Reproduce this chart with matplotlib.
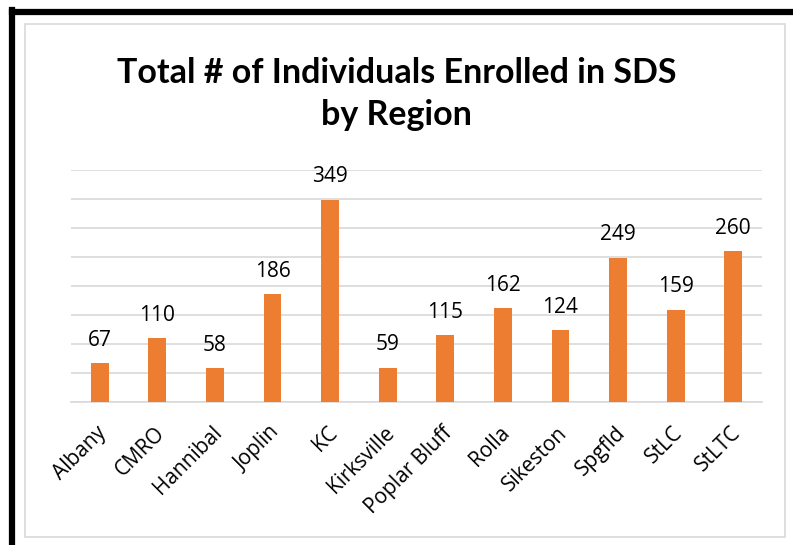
# Total # of individuals enrolled in SDS, by region (bar chart)

import matplotlib.pyplot as plt
import matplotlib.transforms as mtransforms
from matplotlib.patches import Rectangle
from matplotlib.lines import Line2D

regions = ['Albany', 'CMRO', 'Hannibal', 'Joplin', 'KC', 'Kirksville',
           'Poplar Bluff', 'Rolla', 'Sikeston', 'Spgfld', 'StLC', 'StLTC']
enrolled = [67, 110, 58, 186, 349, 59, 115, 162, 124, 249, 159, 260]

plt.rcParams['font.family'] = ['Open Sans', 'DejaVu Sans']

fig = plt.figure(figsize=(7.93, 5.45), dpi=100)
W, H = 793, 545

# black frame (top + left) and gray chart-area border
fig.add_artist(Line2D([12 / W, 1], [1 - 12 / H, 1 - 12 / H], color='black', lw=4.5,
                      transform=fig.transFigure))
fig.add_artist(Line2D([12 / W, 12 / W], [0, 1 - 9.5 / H], color='black', lw=4.5,
                      transform=fig.transFigure))
fig.add_artist(Rectangle((25 / W, 1 - 537 / H), (785 - 25) / W, (537 - 24) / H,
                         fill=False, edgecolor='#d9d9d9', lw=1.2,
                         transform=fig.transFigure))

ax = fig.add_axes([71 / W, 1 - 402 / H, (762 - 71) / W, (402 - 170) / H])
x = range(len(regions))
bars = ax.bar(x, enrolled, width=0.31, color='#ed7d31', zorder=3)
for xi, v in zip(x, enrolled):
    ax.annotate(str(v), (xi, v), xytext=(0, 9), textcoords='offset points',
                ha='center', va='bottom', fontsize=15, color='black')

ax.set_ylim(0, 400)
ax.set_xlim(-0.5, len(regions) - 0.5)
ax.set_yticks(range(0, 401, 50))
ax.yaxis.grid(True, color='#d9d9d9', lw=1.2, zorder=0)
ax.tick_params(axis='y', left=False, labelleft=False)
ax.tick_params(axis='x', length=0, pad=20)
ax.set_xticks(list(x))
ax.set_xticklabels(regions, rotation=45, ha='right', va='center',
                   rotation_mode='anchor', fontsize=15)
shift = mtransforms.ScaledTranslation(4 / 100, 0, fig.dpi_scale_trans)
for lbl in ax.get_xticklabels():
    lbl.set_transform(lbl.get_transform() + shift)
for s in ['top', 'right', 'left']:
    ax.spines[s].set_visible(False)
ax.spines['bottom'].set_color('#d9d9d9')
ax.spines['bottom'].set_linewidth(1.2)

fig.text(0.5, 1 - 73 / H, 'Total # of Individuals Enrolled in SDS', ha='center', va='center',
         fontsize=24.5, fontweight='bold', family=['Lato', 'DejaVu Sans'])
fig.text(0.5, 1 - 115 / H, 'by Region', ha='center', va='center',
         fontsize=24.5, fontweight='bold', family=['Lato', 'DejaVu Sans'])

fig.savefig('out.png', dpi=100)
